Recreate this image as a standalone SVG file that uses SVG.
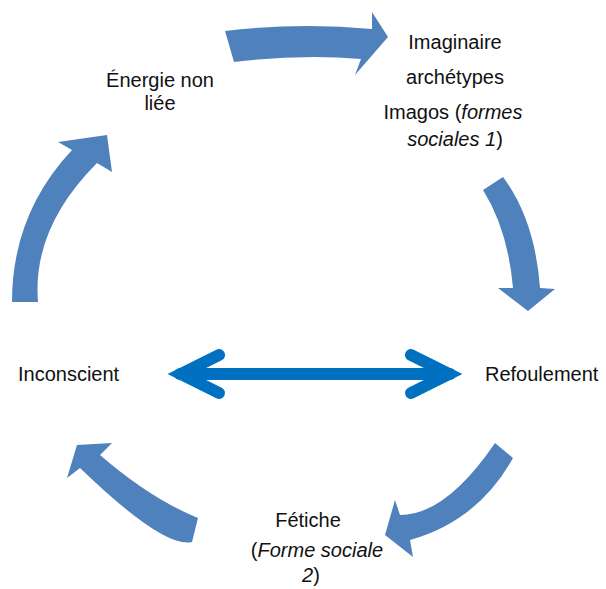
<svg xmlns="http://www.w3.org/2000/svg" width="606" height="589" viewBox="0 0 606 589">
<style>
.arr{fill:#4F81BD;stroke:none}
.t{font-family:"Liberation Sans",Arial,sans-serif;font-size:20px;fill:#111}
.i{font-style:italic}
.dbl{fill:none;stroke:#0070C0;stroke-width:12;stroke-linecap:round;stroke-linejoin:miter}
</style>
<rect width="606" height="589" fill="#fff"/>
<g id="connectors">
<path class="arr" d="M225,31 Q300,22 372,29 L372,12 L388,37 L355,75 L361,59 Q300,54 234,62 Z"/>
<path class="arr" d="M483,190 L503,177 Q535,220 540,288 L555,289 L528,311 L498,288 L513,288 Q508,230 483,190 Z"/>
<path class="arr" d="M495,443 L513,458 Q478,521 410,540 L413,557 L385,535 L395,500 L400,515 Q446,515 495,443 Z"/>
<path class="arr" d="M198,518 Q151,499 100,455 L112,443 L77,445 L67,478 L80,468 Q164,549 192,542 Z"/>
<path class="arr" d="M12,302 Q12,214 72,150 L58,142 L107,135 L112,172 L97,163 Q32,228 38,302 Z"/>
<path class="dbl" d="M180,374 L450,374"/>
<path class="dbl" d="M219,355 L181,374 L219,393"/>
<path class="dbl" d="M411,355 L449,374 L411,393"/>
</g>
<g id="energie"><text class="t" x="160" y="87" text-anchor="middle">Énergie non</text><text class="t" x="160" y="110" text-anchor="middle">liée</text></g>
<g id="imaginaire">
<text class="t" x="455" y="49" text-anchor="middle">Imaginaire</text>
<text class="t" x="455" y="84" text-anchor="middle">archétypes</text>
<text class="t" x="453" y="119" text-anchor="middle">Imagos (<tspan class="i">formes</tspan></text>
<text class="t" x="455" y="146" text-anchor="middle"><tspan class="i">sociales 1</tspan>)</text>
</g>
<g id="refoulement"><text class="t" x="485" y="381">Refoulement</text></g>
<g id="inconscient"><text class="t" x="18" y="381">Inconscient</text></g>
<g id="fetiche">
<text class="t" x="308" y="527" text-anchor="middle">Fétiche</text>
<text class="t" x="317" y="557" text-anchor="middle">(<tspan class="i">Forme sociale</tspan></text>
<text class="t" x="311" y="582" text-anchor="middle"><tspan class="i">2</tspan>)</text>
</g>
</svg>
